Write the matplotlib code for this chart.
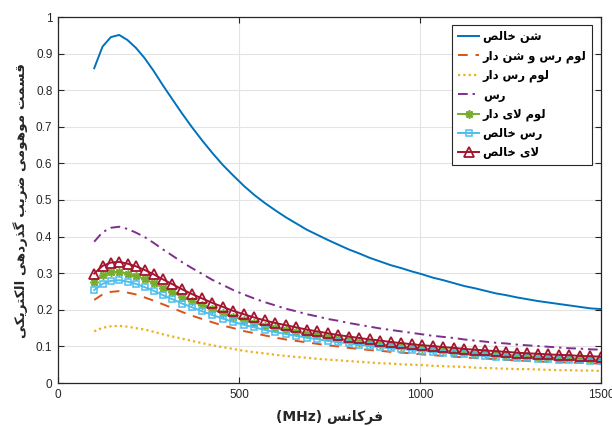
import matplotlib
matplotlib.use("Agg")
import matplotlib.pyplot as plt

plt.rcParams['font.family'] = ['Liberation Sans', 'DejaVu Sans']

# ---------------- data ----------------
freq = [100, 123, 146, 169, 192, 215, 239, 264, 290, 316, 343, 370, 398, 426, 455,
        484, 513, 542, 571, 600, 629, 658, 687, 716, 745, 774, 803, 832, 861, 890,
        919, 948, 977, 1006, 1035, 1064, 1093, 1122, 1151, 1180, 1209, 1238, 1267,
        1296, 1325, 1354, 1383, 1412, 1441, 1470, 1500]

sand = [0.860, 0.919, 0.945, 0.951, 0.937, 0.916, 0.888, 0.853, 0.813, 0.775, 0.736,
        0.699, 0.663, 0.629, 0.596, 0.567, 0.539, 0.514, 0.492, 0.472, 0.453, 0.436,
        0.419, 0.405, 0.391, 0.378, 0.365, 0.354, 0.342, 0.332, 0.322, 0.314, 0.305,
        0.297, 0.288, 0.281, 0.273, 0.265, 0.259, 0.252, 0.245, 0.240, 0.234, 0.229,
        0.224, 0.220, 0.216, 0.212, 0.208, 0.204, 0.202]

clay_sand_loam = [0.227, 0.242, 0.249, 0.251, 0.247, 0.242, 0.234, 0.225, 0.215, 0.205,
                  0.194, 0.184, 0.175, 0.166, 0.157, 0.150, 0.142, 0.136, 0.130, 0.124,
                  0.119, 0.115, 0.111, 0.107, 0.103, 0.100, 0.096, 0.093, 0.090, 0.088,
                  0.085, 0.083, 0.081, 0.078, 0.076, 0.074, 0.072, 0.070, 0.068, 0.067,
                  0.065, 0.063, 0.062, 0.060, 0.059, 0.058, 0.057, 0.056, 0.055, 0.054,
                  0.053]

clay_loam = [0.141, 0.151, 0.155, 0.156, 0.154, 0.150, 0.146, 0.140, 0.133, 0.127,
             0.121, 0.115, 0.109, 0.103, 0.098, 0.093, 0.088, 0.084, 0.081, 0.077,
             0.074, 0.071, 0.069, 0.066, 0.064, 0.062, 0.060, 0.058, 0.056, 0.054,
             0.053, 0.051, 0.050, 0.049, 0.047, 0.046, 0.045, 0.044, 0.042, 0.041,
             0.040, 0.039, 0.038, 0.038, 0.037, 0.036, 0.035, 0.035, 0.034, 0.034,
             0.033]

clay = [0.386, 0.412, 0.424, 0.427, 0.421, 0.411, 0.399, 0.383, 0.365, 0.348, 0.330,
        0.314, 0.298, 0.282, 0.268, 0.254, 0.242, 0.231, 0.221, 0.212, 0.203, 0.196,
        0.188, 0.182, 0.175, 0.170, 0.164, 0.159, 0.154, 0.149, 0.145, 0.141, 0.137,
        0.133, 0.129, 0.126, 0.123, 0.119, 0.116, 0.113, 0.110, 0.108, 0.105, 0.103,
        0.101, 0.099, 0.097, 0.095, 0.094, 0.092, 0.091]

silt_loam = [0.275, 0.294, 0.302, 0.304, 0.299, 0.293, 0.284, 0.273, 0.260, 0.248,
             0.235, 0.223, 0.212, 0.201, 0.191, 0.181, 0.172, 0.164, 0.157, 0.151,
             0.145, 0.139, 0.134, 0.130, 0.125, 0.121, 0.117, 0.113, 0.109, 0.106,
             0.103, 0.100, 0.098, 0.095, 0.092, 0.090, 0.087, 0.085, 0.083, 0.081,
             0.078, 0.077, 0.075, 0.073, 0.072, 0.070, 0.069, 0.068, 0.067, 0.065,
             0.064]

pure_clay = [0.254, 0.271, 0.279, 0.281, 0.277, 0.271, 0.262, 0.252, 0.240, 0.229,
             0.217, 0.207, 0.196, 0.186, 0.176, 0.167, 0.159, 0.152, 0.145, 0.139,
             0.134, 0.129, 0.124, 0.120, 0.115, 0.112, 0.108, 0.105, 0.101, 0.098,
             0.095, 0.093, 0.090, 0.088, 0.085, 0.083, 0.081, 0.078, 0.076, 0.074,
             0.072, 0.071, 0.069, 0.068, 0.066, 0.065, 0.064, 0.063, 0.062, 0.060,
             0.060]

silt = [0.299, 0.320, 0.329, 0.331, 0.326, 0.319, 0.309, 0.297, 0.283, 0.270, 0.256,
        0.243, 0.231, 0.219, 0.208, 0.197, 0.188, 0.179, 0.171, 0.164, 0.158, 0.152,
        0.146, 0.141, 0.136, 0.131, 0.127, 0.123, 0.119, 0.116, 0.112, 0.109, 0.106,
        0.103, 0.101, 0.098, 0.096, 0.093, 0.091, 0.089, 0.087, 0.085, 0.083, 0.081,
        0.080, 0.078, 0.077, 0.076, 0.074, 0.073, 0.072]

labels = ["شن خالص", "لوم رس و شن دار", "لوم رس دار", "رس", "لوم لای دار",
          "رس خالص", "لای خالص"]
xlabel_fa = "فرکانس"
xlabel_unit = "(MHz)"
ylabel_fa = "قسمت موهومی ضریب گذردهی الکتریکی"
xticks = [0, 500, 1000, 1500]
yticks = [0, 0.1, 0.2, 0.3, 0.4, 0.5, 0.6, 0.7, 0.8, 0.9, 1]
ytick_labels = ["0", "0.1", "0.2", "0.3", "0.4", "0.5", "0.6", "0.7", "0.8", "0.9", "1"]

# ---------------- minimal Persian shaping (matplotlib has no shaper) ----------------
FORMS = {  # isolated, final, initial, medial
    'ا': (0xFE8D, 0xFE8E, None, None), 'ب': (0xFE8F, 0xFE90, 0xFE91, 0xFE92),
    'ت': (0xFE95, 0xFE96, 0xFE97, 0xFE98), 'خ': (0xFEA5, 0xFEA6, 0xFEA7, 0xFEA8),
    'د': (0xFEA9, 0xFEAA, None, None), 'ذ': (0xFEAB, 0xFEAC, None, None),
    'ر': (0xFEAD, 0xFEAE, None, None), 'ز': (0xFEAF, 0xFEB0, None, None),
    'س': (0xFEB1, 0xFEB2, 0xFEB3, 0xFEB4), 'ش': (0xFEB5, 0xFEB6, 0xFEB7, 0xFEB8),
    'ص': (0xFEB9, 0xFEBA, 0xFEBB, 0xFEBC), 'ض': (0xFEBD, 0xFEBE, 0xFEBF, 0xFEC0),
    'ف': (0xFED1, 0xFED2, 0xFED3, 0xFED4), 'ق': (0xFED5, 0xFED6, 0xFED7, 0xFED8),
    'ل': (0xFEDD, 0xFEDE, 0xFEDF, 0xFEE0), 'م': (0xFEE1, 0xFEE2, 0xFEE3, 0xFEE4),
    'ن': (0xFEE5, 0xFEE6, 0xFEE7, 0xFEE8), 'ه': (0xFEE9, 0xFEEA, 0xFEEB, 0xFEEC),
    'و': (0xFEED, 0xFEEE, None, None), 'ک': (0xFB8E, 0xFB8F, 0xFB90, 0xFB91),
    'گ': (0xFB92, 0xFB93, 0xFB94, 0xFB95), 'ی': (0xFBFC, 0xFBFD, 0xFBFE, 0xFBFF),
}


def dual(c):
    return c in FORMS and FORMS[c][2] is not None


def rtl(text):
    out = []
    i = 0
    n = len(text)
    while i < n:
        c = text[i]
        prev = text[i - 1] if i > 0 else ''
        if c not in FORMS:
            out.append(c)
            i += 1
            continue
        jp = dual(prev)
        if c == 'ل' and i + 1 < n and text[i + 1] == 'ا':
            out.append(chr(0xFEFC if jp else 0xFEFB))
            i += 2
            continue
        nxt = text[i + 1] if i + 1 < n else ''
        jn = dual(c) and nxt in FORMS
        f = FORMS[c]
        if jp and jn:
            g = f[3]
        elif jp:
            g = f[1]
        elif jn:
            g = f[2]
        else:
            g = f[0]
        out.append(chr(g))
        i += 1
    return ''.join(reversed(out))


# ---------------- plot ----------------
W, H = 612, 426
fig = plt.figure(figsize=(W / 100, H / 100), dpi=100)
ax = fig.add_axes([58 / W, 43 / H, 543 / W, 366 / H])

c_blue, c_orange, c_yellow = '#0072BD', '#D95319', '#EDB120'
c_purple, c_green, c_cyan, c_red = '#7E2F8E', '#77AC30', '#4DBEEE', '#A2142F'

ax.plot(freq, sand, color=c_blue, lw=1.4, label=rtl(labels[0]))
ax.plot(freq, clay_sand_loam, color=c_orange, lw=1.4, dashes=(5, 4), label=rtl(labels[1]))
ax.plot(freq, clay_loam, color=c_yellow, lw=1.6, dashes=(1, 1.4), label=rtl(labels[2]))
ax.plot(freq, clay, color=c_purple, lw=1.4, dashes=(5, 2.5, 1.2, 2.5), label=rtl(labels[3]))
ax.plot(freq, silt_loam, color=c_green, lw=1.4, marker=(8, 2, 0), ms=6, mew=1.2,
        label=rtl(labels[4]))
ax.plot(freq, pure_clay, color=c_cyan, lw=1.4, marker='s', ms=5, mfc='none', mew=1.1,
        label=rtl(labels[5]))
ax.plot(freq, silt, color=c_red, lw=1.4, marker='^', ms=7, mfc='none', mew=1.3,
        label=rtl(labels[6]))

ax.set_xlim(0, 1500)
ax.set_ylim(0, 1)
ax.set_xticks(xticks)
ax.set_yticks(yticks)
ax.set_yticklabels(ytick_labels)
ax.grid(True, color='#E3E3E3', lw=0.8)
ax.set_axisbelow(True)
ax.tick_params(direction='in', length=4, width=0.8, top=True, right=True,
               labelsize=8.5, colors='#262626', pad=4)
for s in ax.spines.values():
    s.set_color('#262626')
    s.set_linewidth(0.9)

ax.set_xlabel(xlabel_unit + ' ' + rtl(xlabel_fa), fontsize=10, fontweight='bold',
              family=['DejaVu Sans'], color='#262626', labelpad=6)
ax.set_ylabel(rtl(ylabel_fa), fontsize=9.7, fontweight='bold',
              family=['DejaVu Sans'], color='#262626', labelpad=6)

leg = ax.legend(loc='upper right', bbox_to_anchor=(592 / W, 1 - 25 / H),
                bbox_transform=fig.transFigure, borderaxespad=0,
                prop={'family': ['DejaVu Sans'], 'size': 8.3, 'weight': 'bold'},
                handlelength=1.9, handletextpad=0.3, labelspacing=0.53,
                borderpad=0.45, fancybox=False, framealpha=1, edgecolor='#262626',
                numpoints=1)
leg.get_frame().set_linewidth(0.8)

fig.savefig('out.png', dpi=100)
